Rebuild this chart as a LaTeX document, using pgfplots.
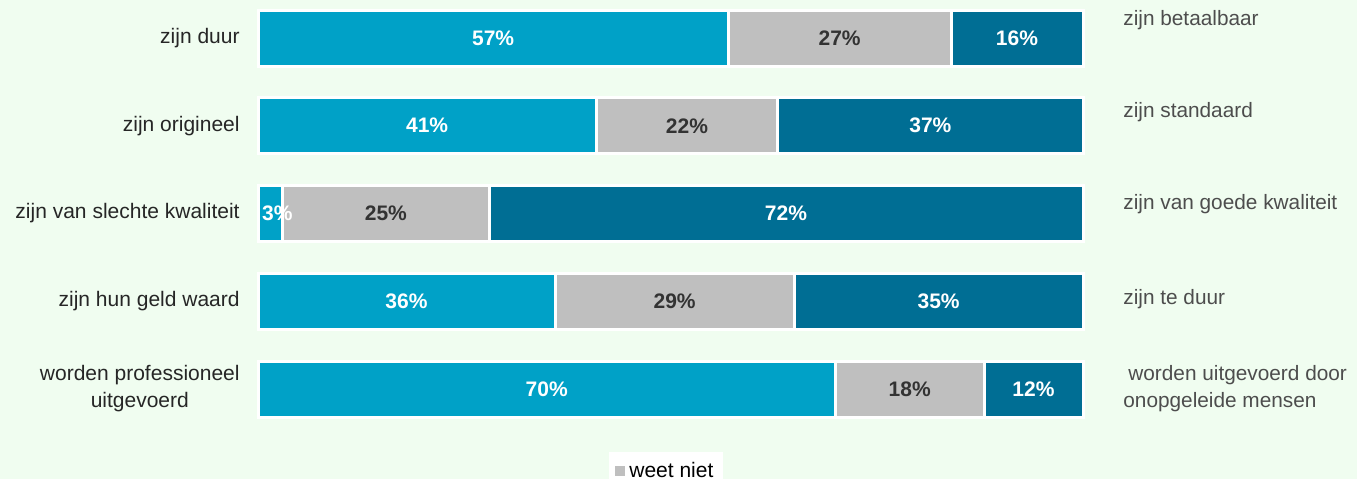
\documentclass[border=0pt]{standalone}
\usepackage{pgfplots}
\pgfplotsset{compat=1.18}
\usepackage{pgfplotstable}
\usepackage{fontspec}
\setmainfont{Liberation Sans}
\definecolor{bg}{RGB}{240,253,240}
\definecolor{lblue}{RGB}{0,161,199}
\definecolor{dblue}{RGB}{0,110,148}
\definecolor{lgray}{RGB}{191,191,191}
\definecolor{ltxt}{RGB}{38,38,38}
\definecolor{rtxt}{RGB}{77,77,77}
\definecolor{gtxt}{RGB}{51,51,51}
\pgfplotstableread{
y v
0 57
1 41
2 3
3 36
4 70
}\eens
\pgfplotstableread{
y v
0 27
1 22
2 25
3 29
4 18
}\weetniet
\pgfplotstableread{
y v
0 16
1 37
2 72
3 35
4 12
}\oneens
\tikzset{rlab/.style={anchor=west, text=rtxt, font=\fontsize{10.4pt}{13.5pt}\selectfont, inner sep=0pt, xshift=20pt}}
\pgfplotsset{
  common/.style={
    at={(129pt,23.0625pt)}, anchor=south west,
    scale only axis, width=412.5pt, height=219.375pt,
    xbar stacked, bar width=28pt,
    xmin=0, xmax=100, ymin=-0.5, ymax=4.5, y dir=reverse,
    clip=false,
    axis line style={draw=none}, tick style={draw=none},
    xtick=\empty,
    /pgf/number format/assume math mode=true,
    point meta=explicit,
    every node near coord/.append style={anchor=center, font=\fontsize{10.5pt}{12pt}\selectfont\bfseries},
  }
}
\begin{document}
\begin{tikzpicture}
\fill[bg] (0,0) rectangle (678.5pt,239.5pt);
\begin{axis}[
  common,
  ytick={0,1,2,3,4},
  yticklabels={zijn duur, zijn origineel, zijn van slechte kwaliteit, zijn hun geld waard, {worden professioneel\\uitgevoerd}},
  yticklabel style={align=center, font=\fontsize{10.5pt}{13.5pt}\selectfont, text=ltxt, inner sep=0pt, xshift=-9pt},
  legend style={at={(0.495,0)}, anchor=north, yshift=-9.5pt, draw=none, fill=white, font=\fontsize{10.5pt}{12pt}\selectfont, inner xsep=3pt, inner ysep=3pt},
  legend image code/.code={\fill[lgray] (1.5pt,-1.75pt) rectangle (5pt,1.75pt);},
]
\addplot[fill=lblue, draw=white, line width=1.5pt] table[x=v, y=y, meta=v] {\eens};
\addplot[fill=lgray, draw=white, line width=1.5pt, nodes near coords={\pgfmathprintnumber{\pgfplotspointmeta}\%}, every node near coord/.append style={text=gtxt}] table[x=v, y=y, meta=v] {\weetniet};
\addplot[fill=dblue, draw=white, line width=1.5pt, nodes near coords={\pgfmathprintnumber{\pgfplotspointmeta}\%}, every node near coord/.append style={text=white}] table[x=v, y=y, meta=v] {\oneens};
\legend{,weet niet,}
\node[rlab] at (axis cs:100,-0.2) {zijn betaalbaar};
\node[rlab] at (axis cs:100,0.85) {zijn standaard};
\node[rlab] at (axis cs:100,1.89) {zijn van goede kwaliteit};
\node[rlab] at (axis cs:100,2.97) {zijn te duur};
\node[rlab, align=left] at (axis cs:100,4.0) {\hspace{2.5pt}worden uitgevoerd door\\onopgeleide mensen};
\end{axis}
\begin{axis}[common, ytick=\empty,
  visualization depends on={rawx \as \val},
  every node near coord/.append style={xshift={(\val<5)*3.5pt}}]
\addplot[fill=none, draw=none, nodes near coords={\pgfmathprintnumber{\pgfplotspointmeta}\%}, every node near coord/.append style={text=white}] table[x=v, y=y, meta=v] {\eens};
\end{axis}
\pgfresetboundingbox
\path[use as bounding box] (0,0) rectangle (678.5pt,239.5pt);
\end{tikzpicture}
\end{document}
